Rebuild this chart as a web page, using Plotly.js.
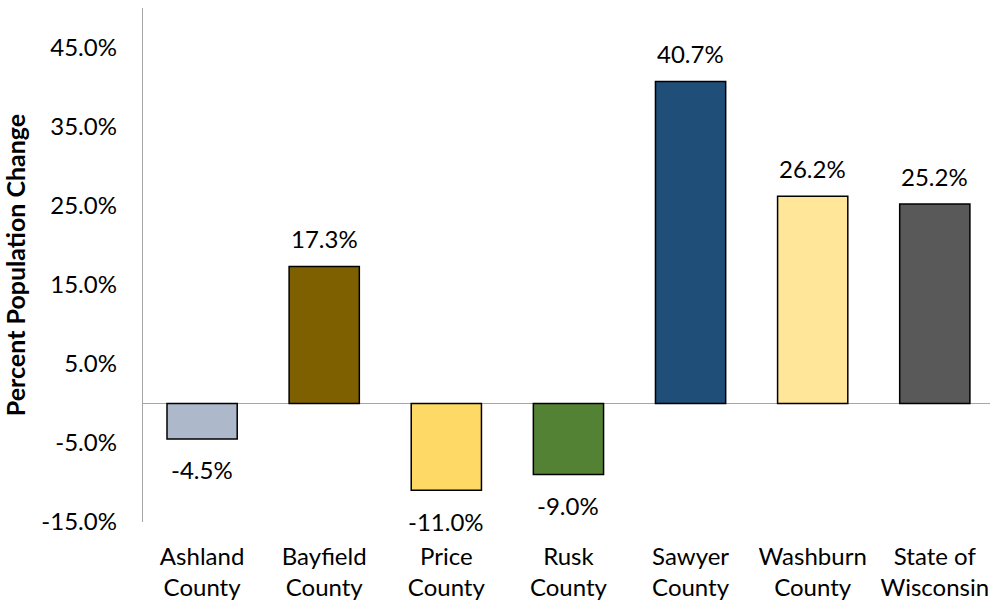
<!DOCTYPE html>
<html>
<head>
<meta charset="utf-8">
<script src="https://cdn.plot.ly/plotly-3.0.1.min.js"></script>
<style>html,body{margin:0;padding:0;background:#fff;}#chart{width:990px;height:605px;}</style>
</head>
<body>
<div id="chart"></div>
<script>
var categories = ["Ashland<br>County", "Bayfield<br>County", "Price<br>County", "Rusk<br>County", "Sawyer<br>County", "Washburn<br>County", "State of<br>Wisconsin"];
var values = [-4.5, 17.3, -11.0, -9.0, 40.7, 26.2, 25.2];
var barColors = ["#ADB9CA", "#7F6000", "#FFD966", "#548235", "#1F4E79", "#FFE699", "#595959"];
var tickValues = [-15, -5, 5, 15, 25, 35, 45];
var tickLabels = ["-15.0%", "-5.0%", "5.0%", "15.0%", "25.0%", "35.0%", "45.0%"];

var FONT = "Lato, 'Open Sans', sans-serif";

var trace = {
  type: "bar",
  x: categories,
  y: values,
  width: 0.575,
  marker: {color: barColors, line: {color: "#000000", width: 1.5}},
  hoverinfo: "none"
};

var annotations = values.map(function (v, i) {
  return {
    x: categories[i], y: v, xref: "x", yref: "y",
    text: v.toFixed(1) + "%",
    showarrow: false,
    yanchor: "middle",
    yshift: v >= 0 ? 28 : -31,
    font: {family: FONT, size: 24, color: "#000"}
  };
});

var layout = {
  width: 990, height: 605,
  margin: {l: 143, r: 0, t: 8, b: 83},
  paper_bgcolor: "#fff", plot_bgcolor: "#fff",
  showlegend: false,
  font: {family: FONT, color: "#000"},
  xaxis: {
    type: "category",
    range: [-0.484, 6.452],
    showgrid: false, zeroline: false, showline: false,
    ticks: "", ticklabelstandoff: 18,
    tickfont: {family: FONT, size: 24, color: "#000"}
  },
  yaxis: {
    range: [-15, 50],
    tickmode: "array", tickvals: tickValues, ticktext: tickLabels,
    showgrid: false,
    zeroline: true, zerolinecolor: "#A6A6A6", zerolinewidth: 1.3,
    showline: true, linecolor: "#A6A6A6", linewidth: 1.3,
    ticks: "", ticklabelstandoff: 20,
    tickfont: {family: FONT, size: 24, color: "#000"},
    title: {text: "<b>Percent Population Change</b>", font: {family: FONT, size: 25, color: "#000"}, standoff: 8}
  },
  annotations: annotations
};

Plotly.newPlot("chart", [trace], layout, {displayModeBar: false, staticPlot: true});
</script>
</body>
</html>
